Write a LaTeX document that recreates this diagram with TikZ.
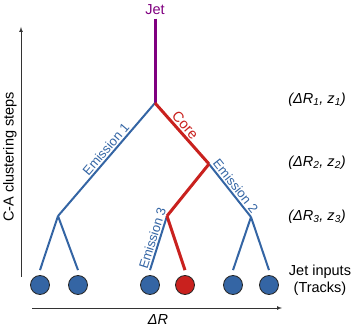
\documentclass[tikz,border=0pt]{standalone}
\usepackage{fontspec}
\setmainfont{Liberation Sans}
\usepackage{xcolor}
\definecolor{emblue}{RGB}{52,101,164}
\definecolor{corered}{RGB}{201,33,30}
\definecolor{jetpurple}{RGB}{128,0,128}
\tikzset{
  track/.style={circle,draw=black!85,line width=0.8pt,fill=emblue,minimum size=19pt,inner sep=0pt},
  emline/.style={emblue,line width=2pt},
  coreline/.style={corered,line width=3pt},
  emlabel/.style={emblue,font=\fontsize{13}{15}\selectfont,sloped,above,inner sep=1.5pt},
  axisline/.style={black!80,line width=0.7pt,-latex}
}
\begin{document}
\begin{tikzpicture}[x=1pt,y=-1pt,font=\fontsize{14.5}{16.5}\selectfont]
\useasboundingbox (0,0) rectangle (357,329);
% branch points of the clustering tree
\coordinate (s1) at (155,103);
\coordinate (s2) at (209,164);
\coordinate (l3) at (58,216);
\coordinate (s3) at (167,216);
\coordinate (r3) at (251,217);
% jet inputs
\foreach \x/\n in {40/t1,78/t2,150/t3,233/t5,269/t6}
  \node[track] (\n) at (\x,285) {};
\node[track,fill=corered] (t4) at (185,285) {};
% tree
\node[jetpurple] (jet) at (155,10) {Jet};
\draw[jetpurple,line width=3pt] (jet.south) -- (s1);
\draw[emline] (s1) -- node[emlabel,pos=0.45] {Emission 1} (l3);
\draw[coreline] (s1) -- node[pos=0.45,sloped,above,corered,inner sep=1.5pt] {Core} (s2);
\draw[emline] (s2) -- node[emlabel] {Emission 2} (r3);
\draw[coreline] (s2) -- (s3);
\draw[emline] (s3) -- node[emlabel,pos=0.45] {Emission 3} ([yshift=5pt]t3.north);
\draw[coreline] (s3) -- ([yshift=5pt]t4.north);
\draw[emline] (l3) -- ([yshift=5pt]t1.north);
\draw[emline] (l3) -- ([yshift=5pt]t2.north);
\draw[emline] (r3) -- ([yshift=5pt]t5.north);
\draw[emline] (r3) -- ([yshift=5pt]t6.north);
% axes
\coordinate (ybot) at (21,277); \coordinate (ytop) at (21,27);
\coordinate (xl) at (32,308); \coordinate (xr) at (282,308);
\draw[axisline] (ybot) -- (ytop);
\draw[axisline] (xl) -- (xr);
\node[rotate=90] (yaxis) at (10,157) {C-A clustering steps};
\node (xaxis) at (158,320) {\itshape ΔR};
% step labels
\node (st1) at (317,100) {\itshape(ΔR\textsubscript{1}, z\textsubscript{1})};
\node (st2) at (317,163) {\itshape(ΔR\textsubscript{2}, z\textsubscript{2})};
\node (st3) at (317,217) {\itshape(ΔR\textsubscript{3}, z\textsubscript{3})};
\node[align=center] (inputs) at (320,280) {Jet inputs\\(Tracks)};
\end{tikzpicture}
\end{document}
